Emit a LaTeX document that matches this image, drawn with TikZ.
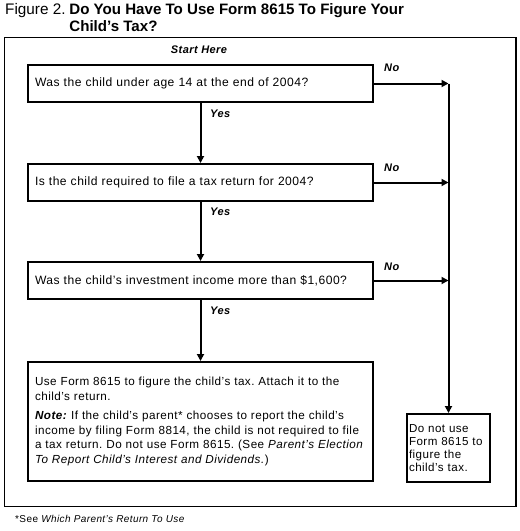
\documentclass[tikz,border=0pt]{standalone}
\usepackage{fontspec}
\setmainfont{Liberation Sans}[LetterSpace=4]
\newfontfamily\titlefont{Liberation Sans}
\usetikzlibrary{arrows.meta}
\begin{document}
\frenchspacing
\begin{tikzpicture}[x=1pt,y=-1pt,
  box/.style={draw,line width=2pt,align=left,inner xsep=7pt,inner ysep=2pt,
    font=\frenchspacing\fontsize{12.1}{14.5}\selectfont},
  qbox/.style={box,text width=331pt,minimum height=37pt},
  lbl/.style={font=\fontsize{11}{13}\selectfont\bfseries\itshape,inner sep=0pt},
  arr/.style={line width=2pt,-{Triangle[length=7pt,width=7pt]}},
  ln/.style={line width=2pt}]
\useasboundingbox (0,0) rectangle (520,531);
% title
\node[anchor=north west,inner sep=0pt,align=left,font=\titlefont\fontsize{15.3}{17}\selectfont] (title) at (5,2)
  {\begin{tabular}{@{}l@{\hspace{0.25em}}l@{}}Figure 2. & \fontsize{15.1}{17}\selectfont\textbf{Do You Have To Use Form 8615 To Figure Your}\\
   & \fontsize{15.1}{17}\selectfont\textbf{Child’s Tax?}\end{tabular}};
% frame
\draw[line width=1.4pt] (4.5,37.5) rectangle (516,506.5);
\node[lbl] (start) at (199,50) {Start Here};
% boxes
\node[qbox,anchor=north west] (b1) at (27,64) {Was the child under age 14 at the end of 2004?};
\node[qbox,anchor=north west] (b2) at (27,163) {Is the child required to file a tax return for 2004?};
\node[qbox,anchor=north west] (b3) at (27,261) {Was the child’s investment income more than \$1,600?};
\node[box,anchor=north west,text width=331pt,minimum height=119pt,
  font=\frenchspacing\fontsize{11.7}{14.6}\selectfont] (b4) at (27,361)
  {\mbox{Use Form 8615 to figure the child’s tax. Attach it to the}\\
   \mbox{child’s return.}\\[5pt]
   \mbox{\textbf{\textit{Note:}} If the child’s parent* chooses to report the child’s}\\
   \mbox{income by filing Form 8814, the child is not required to file}\\
   \mbox{a tax return. Do not use Form 8615. (See \textit{Parent’s Election}}\\
   \mbox{\textit{To Report Child’s Interest and Dividends.}{)}}};
\node[box,anchor=north west,text width=79pt,minimum height=68pt,inner xsep=2pt,
  font=\fontsize{11.6}{13.2}\selectfont] (b5) at (406,413)
  {Do not use\\Form 8615 to\\figure the\\child’s tax.};
% junctions on the right line
\coordinate (j1) at (b5.north |- b1.east);
\coordinate (j2) at (b5.north |- b2.east);
\coordinate (j3) at (b5.north |- b3.east);
% connectors
\draw[arr] (b1.south) -- (b2.north);
\draw[arr] (b2.south) -- (b3.north);
\draw[arr] (b3.south) -- (b4.north);
\draw[arr] (b1.east) -- (j1);
\draw[arr] (b2.east) -- (j2);
\draw[arr] (b3.east) -- (j3);
\draw[arr] (j1) -- (b5.north);
% labels
\node[lbl,anchor=west] (y1) at (210,114) {Yes};
\node[lbl,anchor=west] (y2) at (210,212) {Yes};
\node[lbl,anchor=west] (y3) at (210,311) {Yes};
\node[lbl,anchor=west] (n1) at (384,68) {No};
\node[lbl,anchor=west] (n2) at (384,168) {No};
\node[lbl,anchor=west] (n3) at (384,267) {No};
% footnote
\node[anchor=west,inner sep=0pt,font=\fontsize{10}{11}\selectfont] (foot) at (15,519)
  {*See \textit{Which Parent’s Return To Use}};
\end{tikzpicture}
\end{document}
